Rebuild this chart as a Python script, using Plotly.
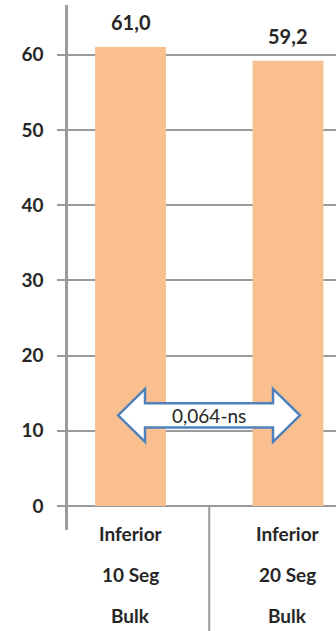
import plotly.graph_objects as go

cat_lines = [["Inferior", "10 Seg", "Bulk"], ["Inferior", "20 Seg", "Bulk"]]
values = [61.0, 59.2]
tick_vals = [0, 10, 20, 30, 40, 50, 60]
comparison_label = "0,064-ns"

BAR = "#F9BF8F"
GRID = "#9B9B9B"
TXT = "#262626"
FONT = "Lato"

xs = list(range(len(values)))
XR = [-0.397, 1.305]
YR = [-3.2, 66.6]

fig = go.Figure()
fig.add_trace(go.Bar(x=xs, y=values, width=0.45, marker=dict(color=BAR, line=dict(width=0)),
                     hoverinfo="skip"))

# data labels
for x, v in zip(xs, values):
    fig.add_annotation(x=x, y=v, text=f"{v:.1f}".replace(".", ","), showarrow=False,
                       yanchor="bottom", yshift=11,
                       font=dict(family=FONT, size=20, color=TXT, weight="bold"))

def xpaper(xv):
    return (xv - XR[0]) / (XR[1] - XR[0])

# category labels (three lines)
for x, lines in zip(xs, cat_lines):
    for i, line in enumerate(lines):
        fig.add_annotation(x=xpaper(x), xref="paper", y=0, yref="paper",
                           text=line, showarrow=False, xanchor="center", yanchor="middle",
                           yshift=-3 - 41 * i,
                           font=dict(family=FONT, size=19, color=TXT, weight="bold"))

# divider between categories, below the axis
y0p = (0 - YR[0]) / (YR[1] - YR[0])
fig.add_shape(type="line", xref="paper", yref="paper", x0=xpaper(0.5), x1=xpaper(0.5),
              y0=y0p, y1=-0.2, line=dict(color=GRID, width=2))

# double-headed block arrow
lt, hb1, hb2, rt = -0.079, 0.092, 0.905, 1.076
yc, hh, sh = 12.04, 3.52, 1.62
path = (f"M {lt},{yc} L {hb1},{yc+hh} L {hb1},{yc+sh} L {hb2},{yc+sh} L {hb2},{yc+hh} "
        f"L {rt},{yc} L {hb2},{yc-hh} L {hb2},{yc-sh} L {hb1},{yc-sh} L {hb1},{yc-hh} Z")
fig.add_shape(type="path", path=path, xref="x", yref="y", fillcolor="white",
              line=dict(color="#4F81BD", width=2.5))
fig.add_annotation(x=(lt + rt) / 2, y=yc, text=comparison_label, showarrow=False,
                   font=dict(family=FONT, size=19, color=TXT))

fig.update_layout(
    width=336, height=631,
    margin=dict(l=68, r=0, t=5, b=101),
    paper_bgcolor="white", plot_bgcolor="white",
    showlegend=False,
    xaxis=dict(range=XR, showticklabels=False, showgrid=False, zeroline=False,
               showline=False, ticks=""),
    yaxis=dict(range=YR, tickvals=tick_vals, showgrid=True, gridcolor=GRID, gridwidth=1.5,
               zeroline=False, showline=True, linecolor=GRID, linewidth=2.5,
               ticks="outside", ticklen=8, tickcolor=GRID, tickwidth=1.5,
               ticklabelstandoff=10,
               tickfont=dict(family=FONT, size=19, color=TXT, weight="bold")),
)

fig.write_html("out.html", config={"displayModeBar": False},
               post_script="document.body.style.margin='0';document.body.style.overflow='hidden';")
